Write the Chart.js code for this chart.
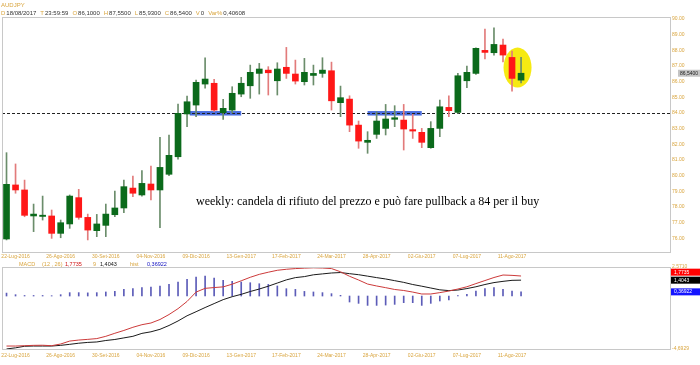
<!DOCTYPE html>
<html>
<head>
<meta charset="utf-8">
<script src="https://cdn.jsdelivr.net/npm/chart.js@4.4.0/dist/chart.umd.min.js"></script>
<style>
  html, body { margin: 0; padding: 0; background: #fff; }
  #wrap { position: relative; width: 700px; height: 365px; }
  #priceWrap { position: absolute; left: 0; top: 0; width: 700px; height: 260px; }
  #macdWrap { position: absolute; left: 0; top: 260px; width: 700px; height: 105px; }
</style>
</head>
<body>
<div id="wrap">
  <div id="priceWrap"><canvas id="priceChart"></canvas></div>
  <div id="macdWrap"><canvas id="macdChart"></canvas></div>
</div>
<script>
// AUDJPY settimanale, una candela per settimana
var weeks = ['15-Lug-2016', '22-Lug-2016', '29-Lug-2016', '05-Ago-2016', '12-Ago-2016', '19-Ago-2016',
    '26-Ago-2016', '02-Set-2016', '09-Set-2016', '16-Set-2016', '23-Set-2016', '30-Set-2016',
    '07-Ott-2016', '14-Ott-2016', '21-Ott-2016', '28-Ott-2016', '04-Nov-2016', '11-Nov-2016',
    '18-Nov-2016', '25-Nov-2016', '02-Dic-2016', '09-Dic-2016', '16-Dic-2016', '23-Dic-2016',
    '30-Dic-2016', '06-Gen-2017', '13-Gen-2017', '20-Gen-2017', '27-Gen-2017', '03-Feb-2017',
    '10-Feb-2017', '17-Feb-2017', '24-Feb-2017', '03-Mar-2017', '10-Mar-2017', '17-Mar-2017',
    '24-Mar-2017', '31-Mar-2017', '07-Apr-2017', '14-Apr-2017', '21-Apr-2017', '28-Apr-2017',
    '05-Mag-2017', '12-Mag-2017', '19-Mag-2017', '26-Mag-2017', '02-Giu-2017', '09-Giu-2017',
    '16-Giu-2017', '23-Giu-2017', '30-Giu-2017', '07-Lug-2017', '14-Lug-2017', '21-Lug-2017',
    '28-Lug-2017', '04-Ago-2017', '11-Ago-2017', '18-Ago-2017'];

var opens = [75.96, 79.41, 79.09, 77.43, 77.40, 77.43, 76.32, 76.92, 78.60, 77.34,
    76.49, 76.83, 77.51, 77.94, 79.21, 78.77, 79.47, 79.09, 80.09, 81.21,
    83.94, 84.51, 85.85, 85.90, 84.02, 84.19, 85.21, 85.74, 86.53, 86.74,
    86.06, 86.92, 86.49, 86.00, 86.40, 86.53, 86.70, 84.66, 84.89, 83.23,
    82.13, 82.64, 83.02, 83.60, 83.55, 82.94, 82.77, 81.79, 83.02, 84.36,
    84.04, 86.06, 86.53, 88.00, 87.85, 88.34, 87.55, 86.10];
var highs = [81.47, 80.75, 79.72, 78.19, 78.70, 77.81, 77.17, 78.77, 79.13, 77.55,
    77.53, 78.19, 79.02, 79.72, 79.98, 80.32, 80.62, 82.45, 82.60, 84.57,
    85.08, 86.11, 87.53, 86.15, 84.87, 85.68, 86.28, 87.06, 87.17, 86.96,
    87.21, 88.19, 87.38, 87.49, 87.06, 87.53, 87.25, 85.72, 85.10, 83.49,
    82.81, 84.08, 84.55, 84.47, 84.55, 83.92, 83.02, 83.45, 84.83, 85.10,
    86.53, 87.00, 88.17, 89.36, 89.44, 88.72, 87.96, 87.55];
var lows = [75.90, 78.88, 77.38, 76.43, 77.17, 76.00, 76.04, 76.64, 77.22, 75.90,
    76.11, 76.11, 77.38, 77.64, 78.66, 78.70, 78.45, 76.68, 80.00, 81.05,
    83.13, 83.77, 85.58, 84.10, 83.60, 84.00, 85.04, 84.94, 85.21, 85.15,
    85.15, 86.21, 85.85, 85.79, 85.79, 86.28, 84.19, 83.77, 82.81, 81.75,
    81.43, 82.38, 82.60, 83.13, 81.64, 82.38, 81.79, 81.75, 82.49, 83.77,
    83.98, 85.62, 86.47, 87.45, 87.70, 87.27, 85.40, 85.93];
var closes = [79.45, 79.09, 77.47, 77.55, 77.48, 76.32, 77.00, 78.70, 77.34, 76.53,
    76.92, 77.55, 77.94, 79.30, 78.88, 79.51, 79.09, 80.53, 81.30, 83.98,
    84.72, 85.96, 86.17, 84.19, 84.30, 85.26, 85.90, 86.60, 86.81, 86.57,
    86.81, 86.53, 86.04, 86.60, 86.53, 86.74, 84.78, 84.98, 83.23, 82.21,
    82.26, 83.49, 83.62, 83.70, 82.98, 82.85, 82.13, 83.02, 84.40, 84.15,
    86.38, 86.60, 88.13, 87.87, 88.38, 87.70, 86.21, 86.54];

// MACD (12, 26, 9)
var macdLine = [-4.43, -4.43, -4.40, -4.37, -4.36, -4.40, -4.25, -3.99, -3.90, -3.84,
    -3.77, -3.57, -3.30, -3.05, -2.77, -2.54, -2.39, -2.08, -1.64, -1.12,
    -0.48, 0.35, 0.68, 0.75, 0.81, 1.05, 1.35, 1.66, 1.92, 2.11,
    2.28, 2.37, 2.43, 2.47, 2.50, 2.48, 2.43, 2.15, 1.75, 1.42,
    1.06, 0.89, 0.74, 0.58, 0.49, 0.35, 0.18, 0.18, 0.30, 0.44,
    0.62, 0.82, 1.10, 1.37, 1.64, 1.86, 1.83, 1.7735];
var signalLine = [-4.69, -4.59, -4.45, -4.43, -4.43, -4.43, -4.37, -4.28, -4.18, -4.11,
    -4.07, -3.94, -3.85, -3.71, -3.57, -3.31, -3.17, -2.95, -2.61, -2.21,
    -1.75, -1.39, -1.02, -0.67, -0.32, -0.06, 0.15, 0.40, 0.62, 0.87,
    1.15, 1.43, 1.63, 1.72, 1.88, 1.96, 2.04, 2.08, 1.98, 1.89,
    1.76, 1.63, 1.51, 1.36, 1.21, 1.02, 0.87, 0.71, 0.55, 0.48,
    0.53, 0.66, 0.82, 1.02, 1.19, 1.30, 1.39, 1.4043];
var histValues = [0.26, 0.12, 0.05, 0.05, 0.05, 0.03, 0.12, 0.30, 0.30, 0.28,
    0.30, 0.36, 0.42, 0.60, 0.65, 0.74, 0.80, 0.89, 1.03, 1.24,
    1.48, 1.68, 1.77, 1.59, 1.39, 1.30, 1.24, 1.18, 1.09, 1.03,
    0.89, 0.65, 0.59, 0.41, 0.36, 0.30, 0.21, 0.06, -0.53, -0.65,
    -0.83, -0.83, -0.80, -0.74, -0.59, -0.59, -0.83, -0.65, -0.44, -0.35,
    0.05, 0.15, 0.44, 0.65, 0.74, 0.59, 0.44, 0.36922];

var priceTicks = [76, 77, 78, 79, 80, 81, 82, 83, 84, 85, 86, 87, 88, 89, 90];
var priceMin = 75.13, priceMax = 90.13;
var macdMin = -4.6929, macdMax = 2.571;
var supportLevel = 84;
var supportZones = [[20.3, 26], [40, 46]];   // settimane (indice) evidenziate in blu
var rejectWeeks = [56, 57];                   // cerchio giallo
var rejectCenter = 86.9;
var noteText = 'weekly: candela di rifiuto del prezzo e può fare pullback a 84 per il buy';
var emptyWeeks = 16;

var gold = '#d9a53f';
var dark = '#333333';
var smallFont = '"Liberation Sans", Arial, sans-serif';

var labels = weeks.concat(new Array(emptyWeeks).fill(''));
var upColor = '#0b6a1b', downColor = '#ff1717';
var bodyColors = opens.map(function(o, i) { return closes[i] >= o ? upColor : downColor; });
var wickColors = opens.map(function(o, i) { return closes[i] >= o ? '#6b8d6b' : '#e27b7b'; });

function comma(v, d) { return v.toFixed(d).replace('.', ','); }

function xTickLabel(value, index) {
    if (index % 5 === 1 && index < weeks.length) return weeks[index];
    return '';
}

var xAxisCommon = {
    ticks: { autoSkip: false, maxRotation: 0, minRotation: 0, padding: 2,
        color: gold, font: { family: smallFont, size: 5 }, callback: xTickLabel },
    grid: { display: false, drawTicks: false },
    border: { display: false }
};

document.addEventListener('DOMContentLoaded', function() {
    Chart.defaults.animation = false;

    // Grafico prezzi
    var priceDecor = {
        id: 'priceDecor',
        beforeDatasetsDraw: function(chart) {
            var ctx = chart.ctx, a = chart.chartArea, x = chart.scales.x, y = chart.scales.y;
            ctx.save();
            // ellisse gialla
            var cx = (x.getPixelForValue(rejectWeeks[0]) + x.getPixelForValue(rejectWeeks[1])) / 2 + 1;
            ctx.fillStyle = '#f6ea12';
            ctx.beginPath();
            ctx.ellipse(cx, y.getPixelForValue(rejectCenter), 14, 20, 0, 0, Math.PI * 2);
            ctx.fill();
            // zone blu sul supporto
            var ly = y.getPixelForValue(supportLevel);
            ctx.fillStyle = '#4b6fe0';
            supportZones.forEach(function(z) {
                var x0 = x.getPixelForValue(z[0]), x1 = x.getPixelForValue(z[1]);
                ctx.fillRect(x0, ly - 2, x1 - x0, 4.5);
            });
            // linea tratteggiata a 84
            ctx.strokeStyle = '#222';
            ctx.lineWidth = 1;
            ctx.setLineDash([3, 2]);
            ctx.beginPath();
            ctx.moveTo(a.left, Math.round(ly) + 0.5);
            ctx.lineTo(a.right, Math.round(ly) + 0.5);
            ctx.stroke();
            ctx.restore();
        },
        afterDraw: function(chart) {
            var ctx = chart.ctx, a = chart.chartArea, y = chart.scales.y;
            var last = weeks.length - 1;
            ctx.save();
            // cornice
            ctx.strokeStyle = '#c8c8c8';
            ctx.lineWidth = 1;
            ctx.strokeRect(a.left + 0.5, a.top + 0.5, a.width, a.height);
            // nota
            ctx.fillStyle = '#000';
            ctx.font = '12px "Liberation Serif", "Times New Roman", serif';
            ctx.textBaseline = 'alphabetic';
            ctx.fillText(noteText, 196, 205);
            // intestazione
            ctx.font = '6px ' + smallFont;
            ctx.textBaseline = 'middle';
            ctx.fillStyle = gold;
            ctx.fillText('AUDJPY', 1, 5);
            var parts = [
                ['D', gold], ['18/08/2017', dark], ['T', gold], ['23:59:59', dark],
                ['O', gold], [comma(opens[last], 4), dark], ['H', gold], [comma(highs[last], 4), dark],
                ['L', gold], [comma(lows[last], 4), dark], ['C', gold], [comma(closes[last], 4), dark],
                ['V', gold], ['0', dark], ['Var%', gold], ['0,40608', dark]
            ];
            var px = 1;
            parts.forEach(function(p, i) {
                ctx.fillStyle = p[1];
                ctx.fillText(p[0], px, 13);
                px += ctx.measureText(p[0]).width + (i % 2 === 0 ? 1 : 4);
            });
            // etichetta ultimo prezzo
            ctx.font = '5px ' + smallFont;
            var cy = y.getPixelForValue(closes[last]);
            ctx.fillStyle = '#c4c4c4';
            ctx.fillRect(678, cy - 3.5, 22, 7);
            ctx.fillStyle = '#222';
            ctx.fillText(comma(closes[last], 4), 680, cy);
            ctx.restore();
        }
    };

    new Chart(document.getElementById('priceChart').getContext('2d'), {
        type: 'bar',
        data: {
            labels: labels,
            datasets: [{
                label: 'Min-Max',
                data: lows.map(function(l, i) { return [l, highs[i]]; }),
                backgroundColor: wickColors,
                barThickness: 1,
                grouped: false,
                order: 2
            }, {
                label: 'Apertura-Chiusura',
                data: opens.map(function(o, i) { return [o, closes[i]]; }),
                backgroundColor: bodyColors,
                barThickness: 6,
                grouped: false,
                order: 1
            }]
        },
        options: {
            responsive: true,
            maintainAspectRatio: false,
            layout: { padding: { left: 2, top: 17, right: 0, bottom: 0 } },
            plugins: { legend: { display: false }, tooltip: { enabled: false } },
            scales: {
                x: Object.assign({}, xAxisCommon, {
                    afterFit: function(s) { s.height = 8; }
                }),
                y: {
                    position: 'right',
                    min: priceMin,
                    max: priceMax,
                    afterBuildTicks: function(s) { s.ticks = priceTicks.map(function(v) { return { value: v }; }); },
                    afterFit: function(s) { s.width = 30; },
                    ticks: { padding: 2, color: gold, font: { family: smallFont, size: 5 },
                        callback: function(v) { return v.toFixed(2); } },
                    grid: { display: false, drawTicks: false },
                    border: { display: false }
                }
            }
        },
        plugins: [priceDecor]
    });

    // Grafico MACD
    var macdDecor = {
        id: 'macdDecor',
        afterDraw: function(chart) {
            var ctx = chart.ctx, a = chart.chartArea, y = chart.scales.y;
            var last = weeks.length - 1;
            ctx.save();
            ctx.strokeStyle = '#c8c8c8';
            ctx.lineWidth = 1;
            ctx.strokeRect(a.left + 0.5, a.top + 0.5, a.width, a.height);
            // intestazione
            ctx.font = '5.5px ' + smallFont;
            ctx.textBaseline = 'middle';
            var parts = [
                ['MACD', gold, 19], ['(12 , 26)', gold, 42], [comma(macdLine[last], 4), '#d01010', 65],
                ['9', gold, 93], [comma(signalLine[last], 4), '#111', 100],
                ['hist', gold, 130], [comma(histValues[last], 5), '#1010c0', 147]
            ];
            parts.forEach(function(p) {
                ctx.fillStyle = p[1];
                ctx.fillText(p[0], p[2], 4);
            });
            // etichette valori a destra
            ctx.font = '5px ' + smallFont;
            var sigY = y.getPixelForValue(signalLine[last]);
            var macY = Math.min(y.getPixelForValue(macdLine[last]), sigY - 8);
            var histY = y.getPixelForValue(histValues[last]);
            var tags = [
                [macY, '#ff0000', comma(macdLine[last], 4)],
                [sigY, '#000000', comma(signalLine[last], 4)],
                [histY, '#1414ff', comma(histValues[last], 5)]
            ];
            tags.forEach(function(t) {
                ctx.fillStyle = t[1];
                ctx.fillRect(671, t[0] - 3.5, 29, 7);
                ctx.fillStyle = '#fff';
                ctx.fillText(t[2], 674, t[0]);
            });
            ctx.restore();
        }
    };

    new Chart(document.getElementById('macdChart').getContext('2d'), {
        type: 'line',
        data: {
            labels: labels,
            datasets: [{
                label: 'MACD',
                data: macdLine,
                borderColor: '#cc3a3a',
                borderWidth: 1,
                pointRadius: 0,
                order: 1
            }, {
                label: 'Segnale',
                data: signalLine,
                borderColor: '#1a1a1a',
                borderWidth: 1,
                pointRadius: 0,
                order: 2
            }, {
                type: 'bar',
                label: 'Istogramma',
                data: histValues,
                backgroundColor: '#5c5cb8',
                barThickness: 1,
                order: 3
            }]
        },
        options: {
            responsive: true,
            maintainAspectRatio: false,
            layout: { padding: { left: 2, top: 7, right: 0, bottom: 0 } },
            plugins: { legend: { display: false }, tooltip: { enabled: false } },
            scales: {
                x: Object.assign({}, xAxisCommon, {
                    offset: true,
                    ticks: Object.assign({}, xAxisCommon.ticks, { padding: 4 }),
                    afterFit: function(s) { s.height = 16; }
                }),
                y: {
                    position: 'right',
                    min: macdMin,
                    max: macdMax,
                    afterBuildTicks: function(s) { s.ticks = [{ value: macdMin }, { value: macdMax }]; },
                    afterFit: function(s) { s.width = 30; },
                    ticks: { padding: 2, color: gold, font: { family: smallFont, size: 5 },
                        callback: function(v) { return comma(v, 4); } },
                    grid: { display: false, drawTicks: false },
                    border: { display: false }
                }
            }
        },
        plugins: [macdDecor]
    });
});
</script>
</body>
</html>
